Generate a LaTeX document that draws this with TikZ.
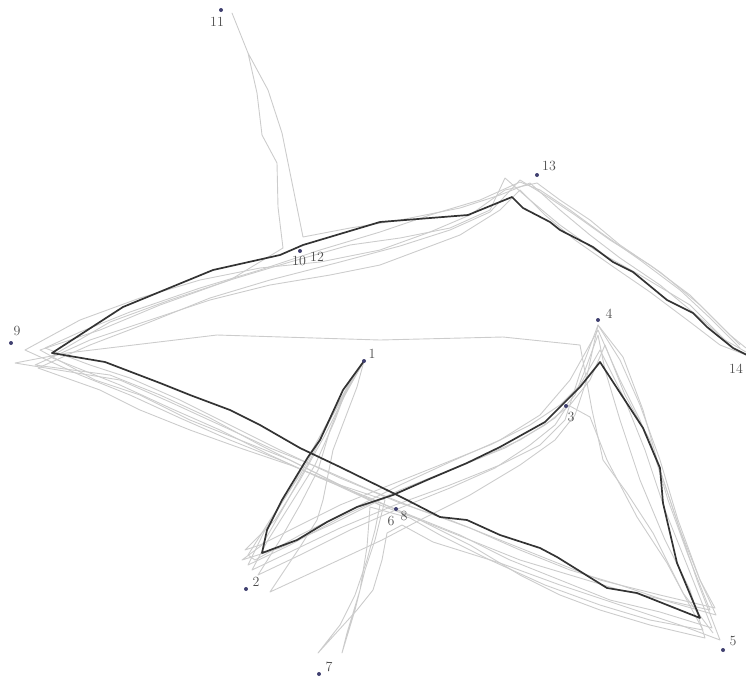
\documentclass[tikz,border=0pt]{standalone}
\begin{document}
\begin{tikzpicture}[x=1pt,y=-1pt,
  trial/.style={draw=black!20,line width=0.9pt,line join=round},
  mean/.style={draw=black!80,line width=1.7pt,line join=round},
  pt/.style={circle,fill=blue!25!black!75,inner sep=0pt,minimum size=4pt},
  lab/.style={text=black!70,font=\fontsize{14}{16}\selectfont,inner sep=0pt}]
\useasboundingbox (0,0) rectangle (746,681);
% gray trials
\draw[trial] (364,361) -- (350,385) -- (330,420) -- (300,475) -- (270,520) -- (248,555) -- (255,560) -- (300,535) -- (350,510) -- (400,485) -- (450,462) -- (500,440) -- (540,415) -- (570,380) -- (598,330) -- (620,380) -- (640,420) -- (660,470) -- (680,530) -- (700,580) -- (715,608) -- (660,595) -- (600,580) -- (550,560) -- (500,540) -- (450,520) -- (400,503) -- (340,478) -- (280,450) -- (230,425) -- (180,400) -- (130,378) -- (90,365) -- (45,348) -- (80,332) -- (130,312) -- (200,288) -- (260,270) -- (320,250) -- (380,232) -- (430,215) -- (480,200) -- (520,182) -- (540,190) -- (570,210) -- (600,232) -- (640,260) -- (680,290) -- (710,318) -- (740,348);
\draw[trial] (364,361) -- (345,395) -- (325,435) -- (300,480) -- (275,520) -- (245,550) -- (260,545) -- (300,525) -- (340,505) -- (390,485) -- (440,465) -- (490,445) -- (530,425) -- (560,405) -- (580,385) -- (600,350) -- (625,400) -- (645,450) -- (665,510) -- (685,560) -- (712,628) -- (660,612) -- (610,600) -- (560,580) -- (510,560) -- (460,535) -- (410,515) -- (360,495) -- (310,470) -- (260,445) -- (210,418) -- (160,395) -- (110,375) -- (35,365) -- (90,340) -- (150,320) -- (210,300) -- (270,285) -- (330,275) -- (380,265) -- (420,250) -- (460,235) -- (500,210) -- (520,190) -- (545,215) -- (575,240) -- (615,268) -- (650,292) -- (690,322) -- (720,345) -- (746,355);
\draw[trial] (364,361) -- (352,378) -- (335,410) -- (310,460) -- (285,505) -- (262,545) -- (242,560) -- (280,548) -- (330,525) -- (380,500) -- (430,478) -- (480,458) -- (520,440) -- (555,418) -- (575,395) -- (585,370) -- (598,335) -- (605,370) -- (620,420) -- (640,480) -- (665,540) -- (690,590) -- (705,638) -- (650,625) -- (600,610) -- (560,595) -- (520,575) -- (470,545) -- (420,520) -- (380,505) -- (330,480) -- (290,460) -- (240,440) -- (190,420) -- (140,395) -- (95,380) -- (40,350) -- (100,330) -- (160,305) -- (230,280) -- (290,262) -- (350,245) -- (400,238) -- (450,228) -- (490,210) -- (505,178) -- (530,200) -- (560,225) -- (595,250) -- (640,275) -- (690,305) -- (715,330) -- (735,350);
\draw[trial] (364,361) -- (340,400) -- (315,445) -- (290,490) -- (265,530) -- (248,565) -- (290,545) -- (345,515) -- (400,490) -- (455,468) -- (505,448) -- (545,425) -- (570,405) -- (590,380) -- (605,345) -- (625,395) -- (650,440) -- (668,500) -- (688,555) -- (710,610) -- (665,600) -- (620,590) -- (570,575) -- (520,560) -- (470,540) -- (420,520) -- (370,498) -- (320,478) -- (270,455) -- (220,430) -- (170,408) -- (120,385) -- (50,357) -- (110,322) -- (170,300) -- (230,280) -- (283,248) -- (278,207) -- (277,163) -- (262,135) -- (257,93) -- (248,53) -- (232,13) -- (248,53) -- (268,90) -- (282,133) -- (303,237) -- (350,228) -- (400,220) -- (460,208) -- (500,195) -- (530,183) -- (560,210) -- (590,235) -- (620,258) -- (660,285) -- (700,318) -- (725,340) -- (746,352);
\draw[trial] (364,361) -- (357,387) -- (333,450) -- (323,500) -- (317,520) -- (300,547) -- (270,592) -- (382,540) -- (420,520) -- (470,495) -- (520,465) -- (555,440) -- (575,415) -- (585,385) -- (598,325) -- (623,357) -- (643,410) -- (660,470) -- (680,530) -- (697,580) -- (720,640) -- (680,625) -- (620,605) -- (560,585) -- (500,563) -- (433,542) -- (402,525) -- (387,533) -- (382,560) -- (373,590) -- (357,610) -- (318,653) -- (340,625) -- (355,595) -- (367,560) -- (375,530) -- (380,505) -- (330,482) -- (280,460) -- (230,440) -- (180,418) -- (130,395) -- (80,375) -- (25,350) -- (80,320) -- (140,298) -- (200,280) -- (260,268) -- (320,262) -- (380,250) -- (430,232) -- (470,215) -- (505,190) -- (537,183) -- (560,200) -- (590,220) -- (620,245) -- (660,272) -- (700,305) -- (730,335) -- (746,348);
\draw[trial] (364,361) -- (345,392) -- (330,430) -- (318,470) -- (300,505) -- (280,540) -- (258,575) -- (300,555) -- (350,530) -- (400,508) -- (450,488) -- (495,468) -- (530,445) -- (555,425) -- (568,405) -- (590,417) -- (607,460) -- (637,517) -- (667,563) -- (683,593) -- (703,630) -- (650,620) -- (600,605) -- (545,585) -- (490,560) -- (440,535) -- (410,518) -- (370,507) -- (367,547) -- (360,590) -- (347,633) -- (342,653) -- (355,610) -- (365,570) -- (375,540) -- (385,500) -- (340,485) -- (290,465) -- (240,448) -- (190,430) -- (140,410) -- (100,390) -- (38,368) -- (90,345) -- (150,322) -- (210,298) -- (270,280) -- (340,262) -- (400,246) -- (450,230) -- (490,212) -- (520,180) -- (548,197) -- (575,215) -- (610,240) -- (650,265) -- (690,295) -- (720,325) -- (740,345);
\draw[trial] (364,361) -- (350,380) -- (335,420) -- (315,465) -- (290,505) -- (268,540) -- (252,570) -- (290,552) -- (340,528) -- (395,505) -- (450,485) -- (500,465) -- (540,445) -- (565,420) -- (580,373) -- (598,325) -- (620,360) -- (640,405) -- (660,460) -- (678,520) -- (700,580) -- (716,615) -- (670,602) -- (620,585) -- (570,570) -- (520,550) -- (470,528) -- (420,510) -- (370,490) -- (320,468) -- (270,448) -- (220,425) -- (170,402) -- (120,380) -- (15,363) -- (67,353) -- (217,335) -- (380,340) -- (503,337) -- (580,345) -- (592,410) -- (603,460) -- (627,493) -- (653,533) -- (683,593) -- (713,633);
% mean path
\draw[mean] (364,361) -- (343,390) -- (320,440) -- (308,457) -- (282,500) -- (267,530) -- (262,553) -- (297,540) -- (327,522) -- (357,507) -- (393,495) -- (427,480) -- (467,463) -- (500,447) -- (545,422) -- (580,387) -- (600,362) -- (643,428) -- (660,468) -- (663,503) -- (677,563) -- (700,618) -- (637,593) -- (607,588) -- (557,557) -- (540,548) -- (500,535) -- (467,520) -- (440,517) -- (407,500) -- (393,493) -- (340,467) -- (300,448) -- (260,425) -- (230,410) -- (190,395) -- (160,383) -- (105,362) -- (52,353) -- (123,307) -- (213,270) -- (280,255) -- (303,245) -- (380,222) -- (468,215) -- (512,197) -- (523,208) -- (550,222) -- (560,230) -- (593,247) -- (613,262) -- (633,272) -- (667,300) -- (693,313) -- (707,327) -- (733,348) -- (747,355);
% points
\node[pt] (d1) at (364,361) {};
\node[pt] (d2) at (246,589) {};
\node[pt] (d3) at (566,406) {};
\node[pt] (d4) at (598,320) {};
\node[pt] (d5) at (723,650) {};
\node[pt] (d6) at (396,509) {};
\node[pt] (d7) at (319,674) {};
\node[pt] (d9) at (11,343) {};
\node[pt] (d10) at (300,251) {};
\node[pt] (d11) at (221,10) {};
\node[pt] (d13) at (537,175) {};
% labels
\node[lab] (l1) at (372,354) {1};
\node[lab] (l2) at (256,582) {2};
\node[lab] (l3) at (571,417) {3};
\node[lab] (l4) at (609,314) {4};
\node[lab] (l5) at (733,641) {5};
\node[lab] (l6) at (391,521) {6};
\node[lab] (l7) at (329,667) {7};
\node[lab] (l8) at (404,516) {8};
\node[lab] (l9) at (17,331) {9};
\node[lab] (l10) at (299,261) {10};
\node[lab] (l11) at (217,22) {11};
\node[lab] (l12) at (317,257) {12};
\node[lab] (l13) at (549,166) {13};
\node[lab] (l14) at (736,369) {14};
\end{tikzpicture}
\end{document}
